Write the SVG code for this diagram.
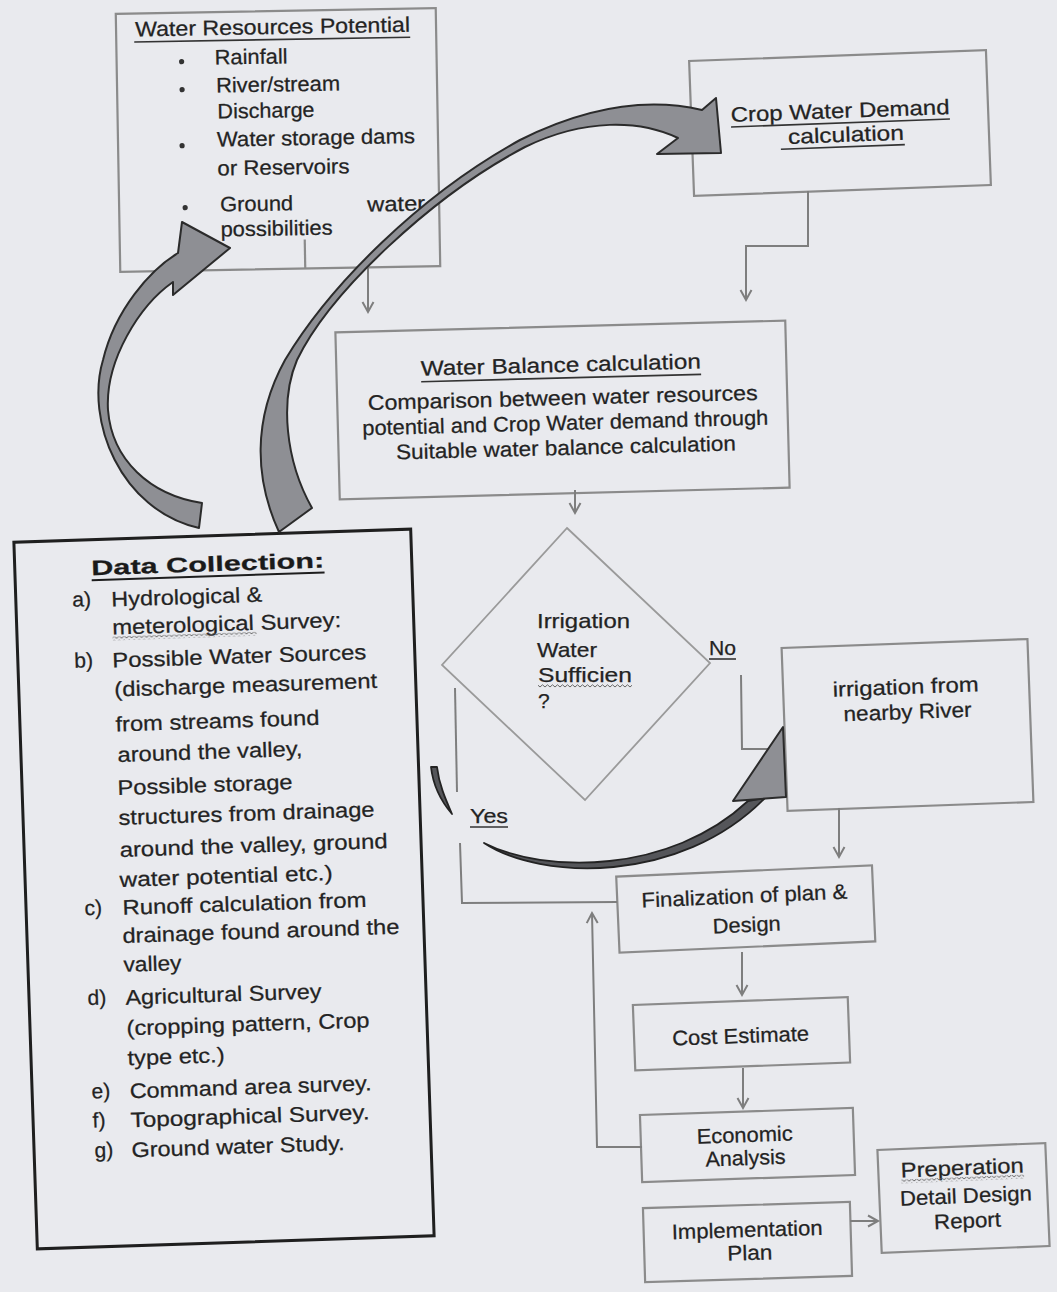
<svg xmlns="http://www.w3.org/2000/svg" width="1057" height="1292" viewBox="0 0 1057 1292">
<defs>
<style>
.bx{fill:none;stroke:#8b8b8b;stroke-width:2.2}
.dc{fill:none;stroke:#1f1f1f;stroke-width:3}
.t{font-family:"Liberation Sans",Arial,sans-serif;font-size:21px;fill:#232323;stroke:#232323;stroke-width:0.25}
.tc{text-anchor:middle}
.b{font-weight:bold;fill:#1a1a1a}
.ul{stroke:#333;stroke-width:1.6}
.cn{fill:none;stroke:#7e7e7e;stroke-width:2}
.big{fill:#8e8f94;stroke:#2b2b2b;stroke-width:2;stroke-linejoin:round}
.dk{fill:#55565a;stroke:#232323;stroke-width:1.8;stroke-linejoin:round}
</style>
<marker id="ah" markerUnits="userSpaceOnUse" markerWidth="16" markerHeight="14" refX="11" refY="7" orient="auto">
<path d="M1,1.5 L11,7 L1,12.5" fill="none" stroke="#7e7e7e" stroke-width="2"/>
</marker>
<pattern id="sq" patternUnits="userSpaceOnUse" width="5" height="4">
<path d="M0,3 L2.5,0.8 L5,3" fill="none" stroke="#666" stroke-width="1"/>
</pattern>
</defs>
<rect x="0" y="0" width="1057" height="1292" fill="#e9eaee"/>

<g id="water-resources" transform="rotate(-1 278 140)">
<rect class="bx" x="118" y="11" width="320" height="258"/>
<line class="bx" x1="303" y1="240" x2="303" y2="269"/>
<text class="t" x="137" y="34" font-size="20" textLength="275" lengthAdjust="spacingAndGlyphs">Water Resources Potential</text>
<line class="ul" x1="136" y1="39.5" x2="412" y2="39.5"/>
<circle cx="183" cy="60" r="2.6" fill="#333"/>
<circle cx="183" cy="88" r="2.6" fill="#333"/>
<circle cx="182" cy="144" r="2.6" fill="#333"/>
<circle cx="184" cy="206" r="2.6" fill="#333"/>
<text class="t" x="216" y="63.5" font-size="20" textLength="73" lengthAdjust="spacingAndGlyphs">Rainfall</text>
<text class="t" x="217" y="91.5" font-size="20" textLength="124" lengthAdjust="spacingAndGlyphs">River/stream</text>
<text class="t" x="218" y="117.5" font-size="20" textLength="97" lengthAdjust="spacingAndGlyphs">Discharge</text>
<text class="t" x="217" y="145.5" font-size="20" textLength="198" lengthAdjust="spacingAndGlyphs">Water storage dams</text>
<text class="t" x="217" y="174.5" font-size="20" textLength="132" lengthAdjust="spacingAndGlyphs">or Reservoirs</text>
<text class="t" x="219" y="210.5" font-size="20" textLength="73" lengthAdjust="spacingAndGlyphs">Ground</text>
<text class="t" x="366" y="213" font-size="20" textLength="58" lengthAdjust="spacingAndGlyphs">water</text>
<text class="t" x="219" y="235.5" font-size="20" textLength="112" lengthAdjust="spacingAndGlyphs">possibilities</text>
</g>

<g id="crop-water-demand" transform="rotate(-2.1 840 123)">
<rect class="bx" x="691.5" y="55.5" width="297" height="135"/>
<text class="t tc" x="840.5" y="118" textLength="219" lengthAdjust="spacingAndGlyphs">Crop Water Demand</text>
<line class="ul" x1="731" y1="123" x2="950" y2="123"/>
<text class="t tc" x="845.5" y="142" textLength="116" lengthAdjust="spacingAndGlyphs">calculation</text>
<line class="ul" x1="780" y1="147" x2="904" y2="147"/>
</g>

<g id="water-balance" transform="rotate(-1.5 562.5 410)">
<rect class="bx" x="337.5" y="326.5" width="450" height="167"/>
<text class="t tc" x="562" y="372" textLength="280" lengthAdjust="spacingAndGlyphs">Water Balance calculation</text>
<line class="ul" x1="422" y1="378" x2="702" y2="378"/>
<text class="t tc" x="563" y="405" textLength="390" lengthAdjust="spacingAndGlyphs">Comparison between water resources</text>
<text class="t tc" x="565" y="430" textLength="406" lengthAdjust="spacingAndGlyphs">potential and Crop Water demand through</text>
<text class="t tc" x="565" y="455" textLength="340" lengthAdjust="spacingAndGlyphs">Suitable water balance calculation</text>
</g>

<g id="decision">
<polygon points="567,528 710,663 585,800 442,665" fill="none" stroke="#9a9a9a" stroke-width="1.8"/>
<text class="t" x="537" y="628" font-size="20" textLength="93" lengthAdjust="spacingAndGlyphs">Irrigation</text>
<text class="t" x="537" y="657" font-size="20" textLength="60" lengthAdjust="spacingAndGlyphs">Water</text>
<text class="t" x="538" y="682" font-size="20" textLength="94" lengthAdjust="spacingAndGlyphs">Sufficien</text>
<rect x="538" y="684" width="94" height="4" fill="url(#sq)"/>
<text class="t" x="538" y="708" font-size="20">?</text>
</g>

<g id="river" transform="rotate(-2.1 907.5 725)">
<rect class="bx" x="784.5" y="643.5" width="246" height="163"/>
<text class="t tc" x="907" y="694" textLength="146" lengthAdjust="spacingAndGlyphs">irrigation from</text>
<text class="t tc" x="908" y="719" textLength="128" lengthAdjust="spacingAndGlyphs">nearby River</text>
</g>

<g id="finalization" transform="rotate(-2.5 745.75 909)">
<rect class="bx" x="617.75" y="871" width="256" height="76"/>
<text class="t tc" x="745" y="903" textLength="206" lengthAdjust="spacingAndGlyphs">Finalization of plan &amp;</text>
<text class="t tc" x="746" y="932" textLength="68" lengthAdjust="spacingAndGlyphs">Design</text>
</g>

<g id="cost-estimate" transform="rotate(-2.1 741.5 1033.75)">
<rect class="bx" x="634" y="1001" width="215" height="65.5"/>
<text class="t tc" x="740.5" y="1043" textLength="137" lengthAdjust="spacingAndGlyphs">Cost Estimate</text>
</g>

<g id="economic-analysis" transform="rotate(-1.9 747.5 1145)">
<rect class="bx" x="641" y="1111.5" width="213" height="67"/>
<text class="t tc" x="745" y="1142" textLength="96" lengthAdjust="spacingAndGlyphs">Economic</text>
<text class="t tc" x="745" y="1165" textLength="80" lengthAdjust="spacingAndGlyphs">Analysis</text>
</g>

<g id="implementation-plan" transform="rotate(-1.7 747.75 1242)">
<rect class="bx" x="644" y="1205" width="207" height="74"/>
<text class="t tc" x="747.5" y="1237" textLength="151" lengthAdjust="spacingAndGlyphs">Implementation</text>
<text class="t tc" x="749.5" y="1260" textLength="45" lengthAdjust="spacingAndGlyphs">Plan</text>
</g>

<g id="detail-design-report" transform="rotate(-2.4 963.5 1198)">
<rect class="bx" x="879.5" y="1146.5" width="168" height="103"/>
<text class="t tc" x="963.5" y="1175" textLength="123" lengthAdjust="spacingAndGlyphs">Preperation</text>
<rect x="902" y="1177" width="123" height="4" fill="url(#sq)"/>
<text class="t tc" x="966" y="1203" textLength="132" lengthAdjust="spacingAndGlyphs">Detail Design</text>
<text class="t tc" x="966.5" y="1228" textLength="67" lengthAdjust="spacingAndGlyphs">Report</text>
</g>

<g id="data-collection" transform="rotate(-1.9 224 889)">
<rect class="dc" x="25.5" y="535.5" width="397" height="707"/>
<text class="t b" x="102" y="571" font-size="28" textLength="233" lengthAdjust="spacingAndGlyphs">Data Collection:</text>
<line x1="102" y1="576" x2="335" y2="576" stroke="#1e1e1e" stroke-width="2"/>
<text class="t" x="82" y="602">a)</text>
<text class="t" x="121" y="603" textLength="151" lengthAdjust="spacingAndGlyphs">Hydrological &amp;</text>
<text class="t" x="121" y="631" textLength="229" lengthAdjust="spacingAndGlyphs">meterological Survey:</text>
<rect x="121" y="633" width="144" height="4" fill="url(#sq)"/>
<text class="t" x="82" y="663">b)</text>
<text class="t" x="120" y="664" textLength="254" lengthAdjust="spacingAndGlyphs">Possible Water Sources</text>
<text class="t" x="121" y="693" textLength="263" lengthAdjust="spacingAndGlyphs">(discharge measurement</text>
<text class="t" x="121" y="728" textLength="204" lengthAdjust="spacingAndGlyphs">from streams found</text>
<text class="t" x="122" y="758.5" textLength="185" lengthAdjust="spacingAndGlyphs">around the valley,</text>
<text class="t" x="121" y="791.5" textLength="175" lengthAdjust="spacingAndGlyphs">Possible storage</text>
<text class="t" x="121" y="821.5" textLength="256" lengthAdjust="spacingAndGlyphs">structures from drainage</text>
<text class="t" x="121" y="853.5" textLength="268" lengthAdjust="spacingAndGlyphs">around the valley, ground</text>
<text class="t" x="120" y="883.5" textLength="213" lengthAdjust="spacingAndGlyphs">water potential etc.)</text>
<text class="t" x="84" y="910.5">c)</text>
<text class="t" x="122" y="911.5" textLength="244" lengthAdjust="spacingAndGlyphs">Runoff calculation from</text>
<text class="t" x="121" y="939.5" textLength="277" lengthAdjust="spacingAndGlyphs">drainage found around the</text>
<text class="t" x="121" y="968.5" textLength="58" lengthAdjust="spacingAndGlyphs">valley</text>
<text class="t" x="84" y="1000.5">d)</text>
<text class="t" x="122" y="1001.5" textLength="196" lengthAdjust="spacingAndGlyphs">Agricultural Survey</text>
<text class="t" x="122" y="1032" textLength="243" lengthAdjust="spacingAndGlyphs">(cropping pattern, Crop</text>
<text class="t" x="122" y="1062" textLength="97" lengthAdjust="spacingAndGlyphs">type etc.)</text>
<text class="t" x="85" y="1094">e)</text>
<text class="t" x="123" y="1095" textLength="242" lengthAdjust="spacingAndGlyphs">Command area survey.</text>
<text class="t" x="85" y="1123">f)</text>
<text class="t" x="123" y="1124" textLength="239" lengthAdjust="spacingAndGlyphs">Topographical Survey.</text>
<text class="t" x="86" y="1153">g)</text>
<text class="t" x="123" y="1154" textLength="213" lengthAdjust="spacingAndGlyphs">Ground water Study.</text>
</g>

<g id="connectors">
<path class="cn" d="M368,268 V312" marker-end="url(#ah)"/>
<path class="cn" d="M808,191 V246 H746 V300" marker-end="url(#ah)"/>
<path class="cn" d="M575,490 V513" marker-end="url(#ah)"/>
<path class="cn" d="M741,675 L742,749 H785"/>
<path class="cn" d="M455,688 L457,792"/>
<path class="cn" d="M460,843 L462,903 L617,902"/>
<path class="cn" d="M839,808 V857" marker-end="url(#ah)"/>
<path class="cn" d="M742,952 V995" marker-end="url(#ah)"/>
<path class="cn" d="M743,1068 V1108" marker-end="url(#ah)"/>
<path class="cn" d="M642,1147 H597 L592,913" marker-end="url(#ah)"/>
<path class="cn" d="M850,1221 H878" marker-end="url(#ah)"/>
<text class="t" x="709" y="655" font-size="20" textLength="27" lengthAdjust="spacingAndGlyphs">No</text>
<line class="ul" x1="709" y1="659" x2="736" y2="659"/>
<text class="t" x="470" y="823" font-size="20" textLength="38" lengthAdjust="spacingAndGlyphs">Yes</text>
<line class="ul" x1="470" y1="827" x2="508" y2="827"/>
<path class="big" d="M199,528 C120,510 85,420 103,360 C115,310 150,270 178,253 L182,222 L230,248 L173,295 L173,282 C140,305 105,360 108,410 C112,460 150,495 202,503 Z"/>
<path class="big" d="M279,532 C255,480 252,420 285,360 C330,285 420,195 520,140 C590,105 650,98 702,110 L716,98 L721,153 L657,154 L678,138 C640,120 585,118 525,147 C432,196 330,292 297,360 C280,400 285,460 312,508 Z"/>
<path class="dk" d="M431,767 C433,785 440,800 452,814 C445,798 439,784 437,767 Z"/>
<path class="dk" d="M484,843 C540,880 680,885 765,798 L748,801 C670,874 545,874 484,843 Z"/>
<path class="big" d="M733,801 L783,727 L786,797 Z"/>
</g>
</svg>
